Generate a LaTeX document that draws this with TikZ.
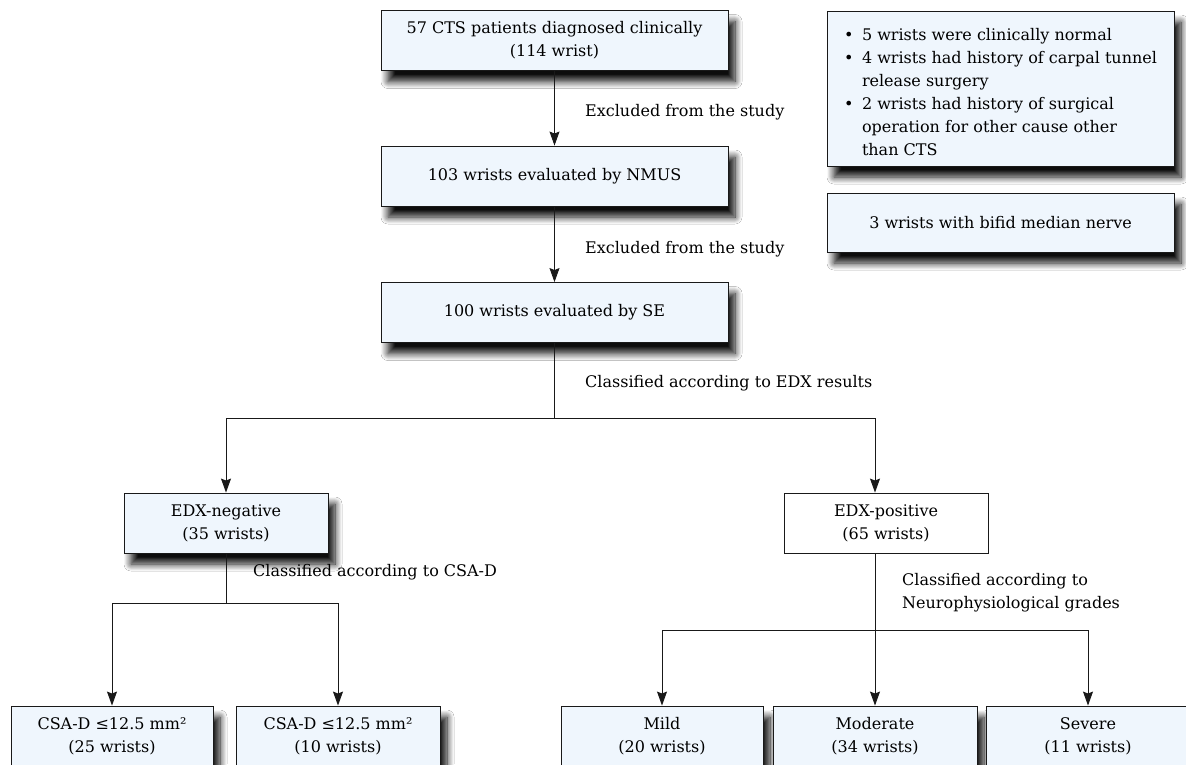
\documentclass[tikz,border=0pt]{standalone}
\usepackage{fontspec}
\setmainfont{DejaVu Serif}
\usetikzlibrary{arrows.meta,shadows.blur}
\definecolor{boxfill}{RGB}{239,246,253}
\definecolor{linec}{RGB}{25,25,25}
\begin{document}
\begin{tikzpicture}[x=1pt,y=-1pt,
 every node/.style={font=\fontsize{16}{23}\selectfont},
 box/.style={draw=linec,line width=0.9pt,fill=boxfill,align=center,inner sep=0pt,minimum height=60pt,
   blur shadow={shadow xshift=7pt,shadow yshift=-11pt,shadow blur radius=7pt,shadow blur steps=10,shadow opacity=95}},
 plainbox/.style={draw=linec,line width=0.9pt,fill=white,align=center,inner sep=0pt,minimum height=60pt},
 arr/.style={draw=linec,line width=0.9pt,-{Stealth[length=14pt,width=10pt,inset=2pt]}},
 conn/.style={draw=linec,line width=0.9pt},
 lbl/.style={anchor=west,inner sep=0pt,align=left}]
\useasboundingbox (0,0) rectangle (1186,764);
\clip (0,0) rectangle (1186,764);
\fill[white] (0,0) rectangle (1186,764);

\node[box,minimum width=347pt] (b1) at (554.5,40.5) {57 CTS patients diagnosed clinically\\(114 wrist)};
\node[box,minimum width=347pt] (b2) at (554.5,176) {103 wrists evaluated by NMUS};
\node[box,minimum width=347pt] (b3) at (554.5,312.5) {100 wrists evaluated by SE};
\node[box,minimum width=204pt] (neg) at (226,523) {EDX-negative\\(35 wrists)};
\node[plainbox,minimum width=204pt] (pos) at (886,523) {EDX-positive\\(65 wrists)};
\node[box,minimum width=202pt] (c1) at (112,736) {CSA-D ≤12.5 mm²\\(25 wrists)};
\node[box,minimum width=204pt] (c2) at (338,736) {CSA-D ≤12.5 mm²\\(10 wrists)};
\node[box,minimum width=202pt] (mild) at (662,736) {Mild\\(20 wrists)};
\node[box,minimum width=204pt] (mod) at (875,736) {Moderate\\(34 wrists)};
\node[box,minimum width=204pt] (sev) at (1088,736) {Severe\\(11 wrists)};

\node[box,minimum width=347pt,minimum height=155pt,align=left] (exc1) at (1000.5,88.5)
 {\rule{0pt}{19pt}\makebox[18pt][l]{•}5 wrists were clinically normal\\
  \makebox[18pt][l]{•}4 wrists had history of carpal tunnel\\
  \hspace*{18pt}release surgery\\
  \makebox[18pt][l]{•}2 wrists had history of surgical\\
  \hspace*{18pt}operation for other cause other\\
  \hspace*{18pt}than CTS};
\node[box,minimum width=347pt,minimum height=59pt] (exc2) at (1000.5,222.5) {3 wrists with bifid median nerve};

\draw[arr] (b1) -- (b2);
\draw[arr] (b2) -- (b3);
\coordinate (s1) at (554.5,418);
\draw[conn] (b3.south) -- (s1);
\draw[arr] (s1) -| (neg.north);
\draw[arr] (s1) -| ([xshift=-11pt]pos.north);
\coordinate (s2) at (226,603);
\draw[conn] (neg.south) -- (s2);
\draw[arr] (s2) -| (c1.north);
\draw[arr] (s2) -| (c2.north);
\draw[arr] ([xshift=-11pt]pos.south) -- (mod.north);
\coordinate (s3) at (875,630);
\draw[arr] (s3) -| (mild.north);
\draw[arr] (s3) -| (sev.north);

\node[lbl] (l1) at (585,112) {Excluded from the study};
\node[lbl] (l2) at (585,249) {Excluded from the study};
\node[lbl] (l3) at (585,383) {Classified according to EDX results};
\node[lbl] (l4) at (253,572) {Classified according to CSA-D};
\node[lbl] (l5) at (902,593) {Classified according to\\Neurophysiological grades};
\end{tikzpicture}
\end{document}
